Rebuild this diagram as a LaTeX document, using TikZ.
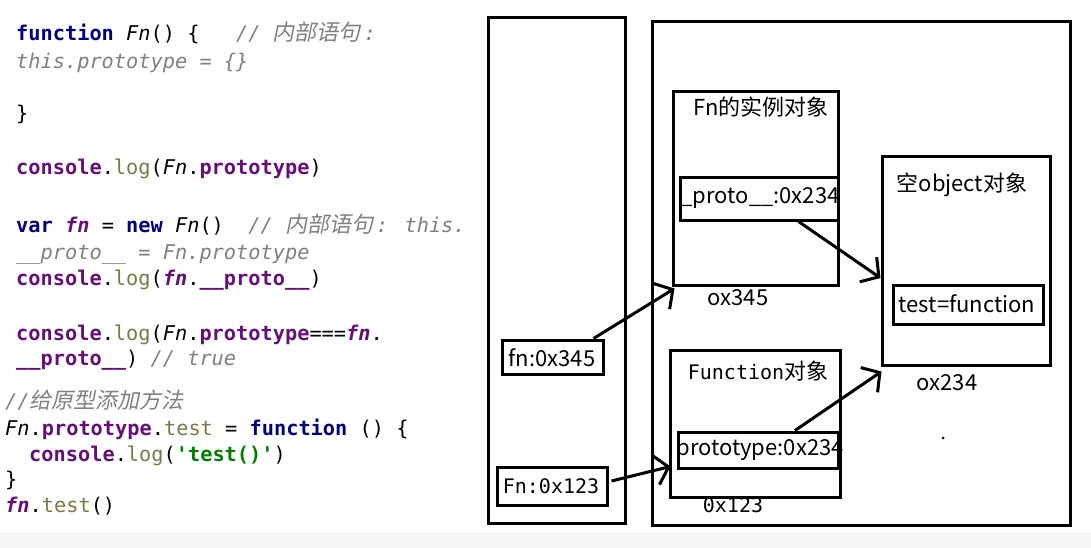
\documentclass[tikz,border=0pt]{standalone}
\usepackage{fontspec}
\setmonofont{DejaVu Sans Mono}
\newfontfamily\cjk{Noto Sans CJK SC}
\newfontfamily\cjkit{Noto Sans CJK SC}[FakeSlant=0.2]
\newfontfamily\diagmono{DejaVu Sans Mono}
\usetikzlibrary{arrows.meta,positioning}

\definecolor{kwblue}{HTML}{000080}
\definecolor{glpurple}{HTML}{660E7A}
\definecolor{cmtgray}{HTML}{808080}
\definecolor{callolive}{HTML}{7A7A43}
\definecolor{strgreen}{HTML}{008000}

% code colouring
\newcommand{\kw}[1]{\textcolor{kwblue}{\bfseries #1}}
\newcommand{\glb}[1]{\textcolor{glpurple}{\bfseries #1}}
\newcommand{\glit}[1]{\textcolor{glpurple}{\bfseries\itshape #1}}
\newcommand{\fnit}[1]{{\itshape #1}}
\newcommand{\cmt}[1]{\textcolor{cmtgray}{\itshape #1}}
\newcommand{\cmzh}[1]{\textcolor{cmtgray}{\cjkit\fontsize{22}{24}\selectfont #1}\hspace{3pt}}
\newcommand{\callc}[1]{\textcolor{callolive}{#1}}
\newcommand{\strg}[1]{\textcolor{strgreen}{\bfseries #1}}

\begin{document}
\begin{tikzpicture}[x=1pt, y=-1pt,
        frame/.style={draw, line width=3pt, inner sep=0pt},
        dtext/.style={font=\cjk\fontsize{22}{24}\selectfont, inner sep=0pt},
        dmono/.style={font=\diagmono\fontsize{20}{24}\selectfont, inner sep=0pt},
        code/.style={anchor=base west, inner sep=0pt,
                     font=\ttfamily\fontsize{20.3}{24}\selectfont},
        ref/.style={-{Straight Barb[length=13pt, width=30pt]}, line width=3pt}
    ]
        \useasboundingbox (0,0) rectangle (1091,548);
        \fill[white] (0,0) rectangle (1091,548);
        \fill[gray!6] (0,532) rectangle (1091,548);

        % code listing
        \node[code] (line1) at (16,41) {\kw{function} \fnit{Fn}() \{\ \ \ \cmt{//\ }\cmzh{内部语句}\cmt{:}};
        \node[code] (line2) at (16,69) {\cmt{this.prototype = \{\}}};
        \node[code] (line3) at (16,121) {\}};
        \node[code] (line4) at (16,175) {\glb{console}.\callc{log}(\fnit{Fn}.\glb{prototype})};
        \node[code] (line5) at (16,232) {\kw{var} \glit{fn} = \kw{new} \fnit{Fn}()\ \ \cmt{//\ }\cmzh{内部语句}\cmt{: this.}};
        \node[code] (line6) at (16,259) {\cmt{\_\_proto\_\_ = Fn.prototype}};
        \node[code] (line7) at (16,285) {\glb{console}.\callc{log}(\glit{fn}.\glb{\_\_proto\_\_})};
        \node[code] (line8) at (16,340) {\glb{console}.\callc{log}(\fnit{Fn}.\glb{prototype}===\glit{fn}.};
        \node[code] (line9) at (16,365) {\glb{\_\_proto\_\_}) \cmt{// true}};
        \node[code] (line10) at (5,408) {\cmt{//}\cmzh{给原型添加方法}};
        \node[code] (line11) at (5,435) {\fnit{Fn}.\glb{prototype}.\callc{test} = \kw{function} () \{};
        \node[code] (line12) at (29,461) {\glb{console}.\callc{log}(\strg{\textquotesingle test()\textquotesingle})};
        \node[code] (line13) at (5,486) {\}};
        \node[code] (line14) at (5,512) {\glit{fn}.\callc{test}()};

        % stack and heap
        \node[frame, minimum width=137pt, minimum height=505pt] (stack) at (556.5,270.5) {};
        \node[frame, minimum width=418pt, minimum height=503pt] (heap) at (861,273.5) {};

        % Fn instance
        \node[frame, minimum width=165pt, minimum height=193pt] (inst) at (755.5,188.5) {};
        \node[dtext] (inst-title) at (761,107) {Fn的实例对象};
        \node[frame, minimum width=158pt, minimum height=42pt] (proto) at (759,199) {};
        \node[dtext] (proto-text) at (760,198) {\_proto\_\_:0x234};
        \node[dtext] (inst-addr) at (738,298) {ox345};

        % empty object
        \node[frame, minimum width=168pt, minimum height=208pt] (empty) at (966,261) {};
        \node[dtext] (empty-title) at (962,185) {空object对象};
        \node[frame, minimum width=150pt, minimum height=39pt] (testfn) at (968,304.5) {};
        \node[dtext] (testfn-text) at (967,304) {test=function};
        \node[dtext] (empty-addr) at (947,383) {ox234};
        \fill (943,438) circle (1.5pt);

        % Function object
        \node[frame, minimum width=170pt, minimum height=147pt] (func) at (755,423.5) {};
        \node[dmono] (func-title) at (758,371) {Function{\cjk\fontsize{22}{24}\selectfont 对象}};
        \node[frame, minimum width=160pt, minimum height=36pt] (protobox) at (758,450) {};
        \node[dtext] (protobox-text) at (760,450) {prototype:0x234};
        \node[dmono] (func-addr) at (733,505) {0x123};

        % stack variables
        \node[frame, minimum width=101pt, minimum height=34pt] (fnvar) at (552.5,357) {};
        \node[dtext] (fnvar-text) at (552,358) {fn:0x345};
        \node[frame, minimum width=110pt, minimum height=38pt] (fnfunc) at (552,486) {};
        \node[dmono] (fnfunc-text) at (551,486) {Fn:0x123};

        \draw[ref] ([xshift=-11pt]fnvar.north east) -- ([xshift=3pt,yshift=-2pt]inst.south west);
        \draw[ref] ([xshift=-41pt]proto.south east) -- ([yshift=-17pt]empty.west);
        \draw[ref] ([xshift=3pt,yshift=5pt]fnfunc.east) -- ([xshift=-6pt,yshift=3pt]protobox.south west);
        \draw[ref] ([xshift=37pt]protobox.north) -- ([xshift=1pt,yshift=-5pt]empty.south west);
    \end{tikzpicture}
\end{document}
